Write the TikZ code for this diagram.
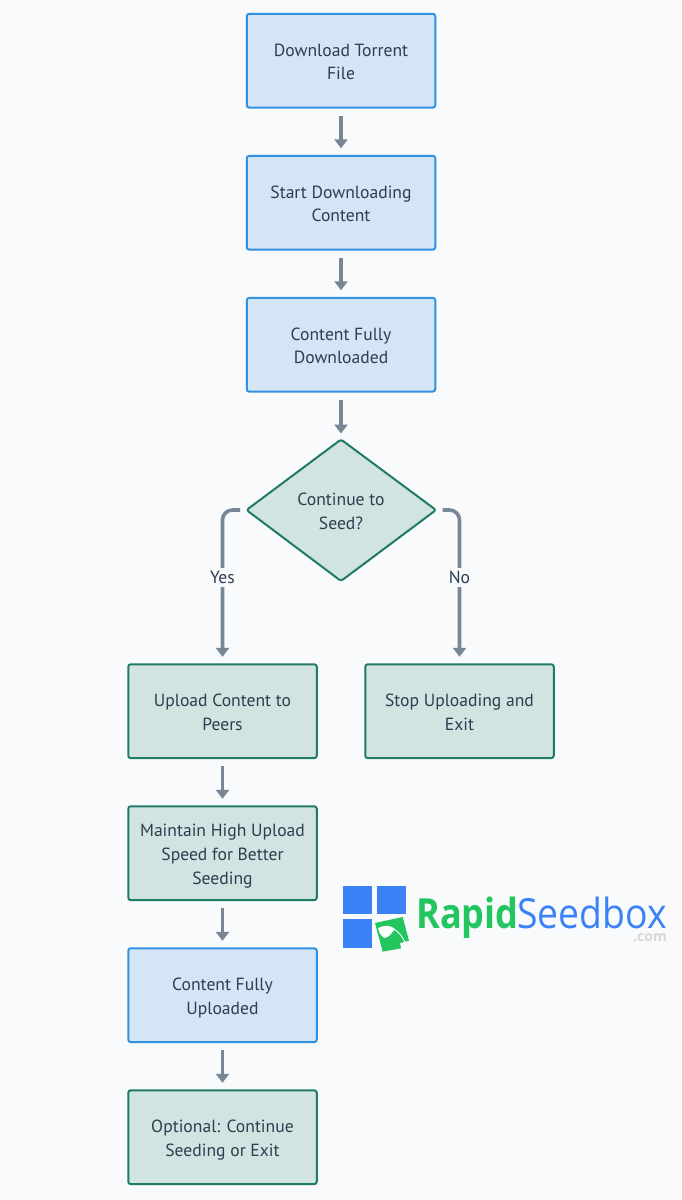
\documentclass[tikz,border=0pt]{standalone}
\usepackage{fontspec}
\setmainfont{PT Sans}
\newfontfamily\logofont{Open Sans}
\usetikzlibrary{arrows.meta,shapes.geometric,calc}
\definecolor{bgc}{HTML}{F8FAFC}
\definecolor{bluef}{HTML}{D4E6F6}
\definecolor{blued}{HTML}{3290E0}
\definecolor{greenf}{HTML}{D2E4E1}
\definecolor{greend}{HTML}{1F7A66}
\definecolor{txtc}{HTML}{2C3E50}
\definecolor{arrc}{HTML}{778798}
\definecolor{logob}{HTML}{3B82F6}
\definecolor{logog}{HTML}{22C55E}
\definecolor{logoc}{HTML}{D4D6D8}
\newcommand{\boxtext}[1]{\raisebox{-6.8pt}[0pt][0pt]{\parbox{180pt}{\centering\strut #1\strut}}}
\tikzset{
  x=1pt,y=-1pt,
  flowtext/.style={text=txtc,align=center,font=\fontsize{17.6}{23.7}\selectfont},
  flowbox/.style={draw,line width=2pt,rounded corners=2.5pt,minimum width=188.5pt,minimum height=93.8pt,flowtext,inner sep=0pt},
  bluebox/.style={flowbox,fill=bluef,draw=blued},
  greenbox/.style={flowbox,fill=greenf,draw=greend},
  flowconn/.style={draw=arrc,line width=3.6pt,rounded corners=10pt,-{Triangle[length=9pt,width=13pt]},shorten >=6.5pt,shorten <=7pt},
  edgelabel/.style={fill=bgc,flowtext,inner sep=3pt},
  logosq/.style={fill=logob,draw=none},
}
\begin{document}
\begin{tikzpicture}
\fill[bgc] (0,0) rectangle (682,1200);
\useasboundingbox (0,0) rectangle (682,1200);

\node[bluebox] (a) at (341,60.7) {\boxtext{Download Torrent\\File}};
\node[bluebox] (b) at (341,202.7) {\boxtext{Start Downloading\\Content}};
\node[bluebox] (c) at (341,344.7) {\boxtext{Content Fully\\Downloaded}};
\draw[greend,fill=greenf,line width=2pt,rounded corners=2.5pt] (341,439.5) -- (436,510) -- (341,581) -- (246.5,510) -- cycle;
\node[flowtext] (d) at (341,511.5) {Continue to\\Seed?};
\coordinate (dt) at (341,440);
\coordinate (dl) at (247,510);
\coordinate (dr) at (435.5,510);
\node[greenbox] (e) at (222.5,711.2) {\boxtext{Upload Content to\\Peers}};
\node[greenbox] (f) at (459.5,711.2) {\boxtext{Stop Uploading and\\Exit}};
\node[greenbox] (g) at (222.5,853.2) {\boxtext{Maintain High Upload\\Speed for Better\\Seeding}};
\node[bluebox] (h) at (222.5,995.2) {\boxtext{Content Fully\\Uploaded}};
\node[greenbox] (i) at (222.5,1137.2) {\boxtext{Optional: Continue\\Seeding or Exit}};

\draw[flowconn] (a) -- (b);
\draw[flowconn] (b) -- (c);
\draw[flowconn] (c.south) -- (dt);
\draw[flowconn] (e) -- (g);
\draw[flowconn] (g) -- (h);
\draw[flowconn] (h) -- (i);
\draw[flowconn] (dl) -| (e.north);
\draw[flowconn] (dr) -| (f.north);
\node[edgelabel] (yes) at (222.5,577.5) {Yes};
\node[edgelabel] (no) at (459.5,577.5) {No};

% logo
\fill[logosq] (343.3,886) rectangle (372,914.3);
\fill[logosq] (377,886) rectangle (405.7,914.3);
\fill[logosq] (343.3,919.3) rectangle (372,948);
\fill[logog] (375,923) -- (402.7,917) -- (409,940.7) -- (400,943) -- (401,948.3) -- (382.7,951.7) -- cycle;
\fill[white] (378,928) .. controls (384,925) and (391,925) .. (395,929) .. controls (392,932) and (390,937) .. (385,938) .. controls (381,937) and (379,932) .. (378,928) -- cycle;
\draw[white,line width=0.9pt] (393,928.5) .. controls (398,931) and (402,936) .. (405,942);
\node[anchor=base west,inner sep=0pt,text=logog,xscale=0.87,font=\logofont\bfseries\fontsize{41.5}{41.5}\selectfont] (lr) at (416,928.5) {Rapid};
\node[anchor=base west,inner sep=0pt,text=logob,xscale=0.9,font=\logofont\fontsize{41.5}{41.5}\selectfont] (ls) at (517,928.5) {Seedbox};
\node[anchor=base east,inner sep=0pt,text=logoc,font=\logofont\bfseries\fontsize{14}{14}\selectfont] (lc) at (667,941) {.com};
\end{tikzpicture}
\end{document}
